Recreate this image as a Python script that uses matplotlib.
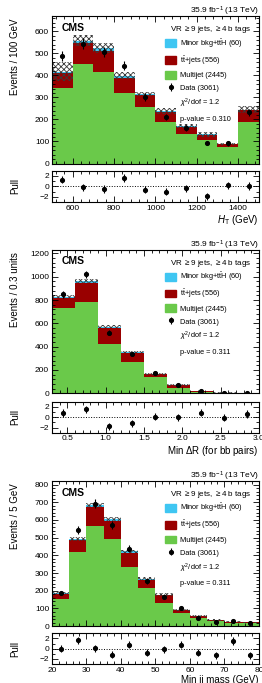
import numpy as np
import matplotlib.pyplot as plt
from matplotlib.patches import Patch
from matplotlib.lines import Line2D
from matplotlib.ticker import MultipleLocator

plt.rcParams['font.family'] = ['Liberation Sans', 'DejaVu Sans']
plt.rcParams['mathtext.fontset'] = 'custom'
plt.rcParams['mathtext.rm'] = 'Liberation Sans'
plt.rcParams['mathtext.it'] = 'Liberation Sans:italic'
plt.rcParams['mathtext.bf'] = 'Liberation Sans:bold'
plt.rcParams['hatch.linewidth'] = 0.6
plt.rcParams['axes.linewidth'] = 0.8

# ---- HT ----
ht_edges = [500, 600, 700, 800, 900, 1000, 1100, 1200, 1300, 1400, 1500]
ht_multijet = [345, 450, 417, 318, 258, 189, 136, 106, 76, 189]
ht_ttbar = [64, 96, 96, 72, 53, 44, 31, 23, 12, 53]
ht_minor = [8, 12, 11, 8, 6, 5, 3, 3, 1, 3]
ht_unc = [42, 26, 24, 16, 10, 13, 11, 11, 6, 17]
ht_data = [489, 545, 508, 444, 303, 212, 162, 94, 91, 232]
ht_pull = [1.3, -0.2, -0.5, 1.6, -0.6, -1.0, -0.4, -1.9, 0.2, 0.1]

# ---- min dR(bb) ----
dr_edges = [0.3, 0.6, 0.9, 1.2, 1.5, 1.8, 2.1, 2.4, 2.7, 3.0]
dr_multijet = [729, 786, 423, 267, 136, 48, 14, 3, 1]
dr_ttbar = [87, 163, 135, 81, 28, 21, 5, 2, 1]
dr_minor = [12, 18, 12, 7, 4, 2, 1, 0.3, 0.1]
dr_unc = [14, 17, 14, 10, 8, 5, 3, 2, 1]
dr_data = [851, 1021, 519, 338, 176, 71, 22, 5, 3]
dr_pull = [0.8, 1.5, -1.8, -1.2, 0.1, 0.0, 0.9, -0.1, 0.6]

# ---- min jj mass ----
mjj_edges = [20, 25, 30, 35, 40, 45, 50, 55, 60, 65, 70, 75, 80]
mjj_multijet = [154, 417, 564, 494, 332, 214, 130, 73, 46, 29, 20, 18]
mjj_ttbar = [29, 67, 107, 98, 82, 49, 44, 17, 11, 5.5, 3.5, 3.7]
mjj_minor = [3, 10, 14, 12, 8, 5, 3, 2, 1, 0.5, 0.5, 0.3]
mjj_unc = [6, 12, 12, 11, 9, 8, 8, 6, 4, 3, 3, 2]
mjj_data = [187, 545, 691, 570, 438, 256, 167, 101, 48, 24, 29, 16]
mjj_pull = [0.0, 1.6, 0.1, -1.2, 0.8, -0.8, -0.1, 0.8, -0.8, -1.3, 1.5, -1.3]

pull_err = 0.7

c_green = '#6ac94a'
c_red = '#990000'
c_cyan = '#3fc6f2'

fs_tick = 6
fs_lab = 7


def style(ax, xmaj, ymaj, yminor):
    ax.xaxis.set_major_locator(MultipleLocator(xmaj))
    ax.xaxis.set_minor_locator(MultipleLocator(xmaj / 5))
    ax.yaxis.set_major_locator(MultipleLocator(ymaj))
    ax.yaxis.set_minor_locator(MultipleLocator(yminor))
    ax.tick_params(which='both', direction='in', top=True, right=True,
                   labelsize=fs_tick, width=0.6, pad=2)
    ax.tick_params(which='major', length=4)
    ax.tick_params(which='minor', length=2)


def panel(ax, axp, edges, multijet, ttbar, minor, unc, data, pull,
          ymax, ymaj, yminor, xmaj, ylabel, xlabel, pval):
    edges = np.array(edges, dtype=float)
    left = edges[:-1]
    width = np.diff(edges)
    centers = left + width / 2
    multijet = np.array(multijet, dtype=float)
    ttbar = np.array(ttbar, dtype=float)
    minor = np.array(minor, dtype=float)
    unc = np.array(unc, dtype=float)
    data = np.array(data, dtype=float)
    total = multijet + ttbar + minor

    ax.bar(left, multijet, width, align='edge', color=c_green, lw=0)
    ax.bar(left, ttbar, width, bottom=multijet, align='edge', color=c_red, lw=0)
    ax.bar(left, minor, width, bottom=multijet + ttbar, align='edge',
           color=c_cyan, lw=0)
    ax.bar(left, 2 * unc, width, bottom=total - unc, align='edge', fill=False,
           hatch='xxxxxx', edgecolor='#3a3a3a', lw=0)
    eb = ax.errorbar(centers, data, yerr=np.sqrt(data), fmt='o', color='k',
                     ms=2.7, elinewidth=0.8, capsize=0)
    ax.set_xlim(edges[0], edges[-1])
    ax.set_ylim(0, ymax)
    style(ax, xmaj, ymaj, yminor)
    ax.tick_params(labelbottom=False)
    ax.set_ylabel(ylabel, fontsize=fs_lab, loc='top')
    ax.yaxis.set_label_coords(-0.155, 0.985)

    ax.text(1.0, 1.03, '35.9 fb$^{-1}$ (13 TeV)', transform=ax.transAxes,
            ha='right', va='center', fontsize=6)
    ax.text(0.048, 0.955, 'CMS', transform=ax.transAxes, ha='left', va='top',
            fontsize=7.5, fontweight='bold')
    ax.text(0.962, 0.905, r'VR $\geq$9 jets, $\geq$4 b tags',
            transform=ax.transAxes, ha='right', va='center', fontsize=5.8)

    handles = [Patch(color=c_cyan), Patch(color=c_red), Patch(color=c_green),
               eb, Line2D([], [], ls='none'), Line2D([], [], ls='none')]
    labels = [r'Minor bkg+$\mathrm{t\bar{t}H}$ (60)',
              r'$\mathrm{t\bar{t}}$+jets (556)',
              'Multijet (2445)', 'Data (3061)',
              r'$\chi^2$/dof = 1.2', 'p-value = ' + pval]
    ax.legend(handles, labels, loc='upper left',
              bbox_to_anchor=(0.545, 0.855), frameon=False,
              fontsize=5.3, handlelength=1.6, handleheight=1.25,
              labelspacing=0.6, handletextpad=0.5, borderpad=0,
              borderaxespad=0)

    axp.errorbar(centers, pull, yerr=pull_err, fmt='o', color='k', ms=2.7,
                 elinewidth=0.8, capsize=0)
    axp.axhline(0, ls=':', color='k', lw=0.7)
    axp.set_xlim(edges[0], edges[-1])
    axp.set_ylim(-3, 3)
    style(axp, xmaj, 2, 1)
    axp.set_ylabel('Pull', fontsize=fs_lab)
    axp.yaxis.set_label_coords(-0.155, 0.5)
    axp.set_xlabel(xlabel, fontsize=fs_lab, loc='right', labelpad=1)


fig = plt.figure(figsize=(2.62, 6.83), dpi=100)
L, W = 0.198, 0.790

ax1 = fig.add_axes([L, 0.7606, W, 0.216])
ax1p = fig.add_axes([L, 0.7042, W, 0.0458])
ax2 = fig.add_axes([L, 0.4242, W, 0.2098])
ax2p = fig.add_axes([L, 0.3665, W, 0.0454])
ax3 = fig.add_axes([L, 0.0832, W, 0.2126])
ax3p = fig.add_axes([L, 0.0278, W, 0.0450])

panel(ax1, ax1p, ht_edges, ht_multijet, ht_ttbar, ht_minor, ht_unc, ht_data,
      ht_pull, 670, 100, 20, 200, 'Events / 100 GeV',
      r'$H_{\mathrm{T}}$ (GeV)', '0.310')
panel(ax2, ax2p, dr_edges, dr_multijet, dr_ttbar, dr_minor, dr_unc, dr_data,
      dr_pull, 1230, 200, 40, 0.5, 'Events / 0.3 units',
      r'Min $\Delta$R (for bb pairs)', '0.311')
panel(ax3, ax3p, mjj_edges, mjj_multijet, mjj_ttbar, mjj_minor, mjj_unc,
      mjj_data, mjj_pull, 820, 100, 20, 10, 'Events / 5 GeV',
      'Min jj mass (GeV)', '0.311')

fig.savefig('out.png', dpi=100)
